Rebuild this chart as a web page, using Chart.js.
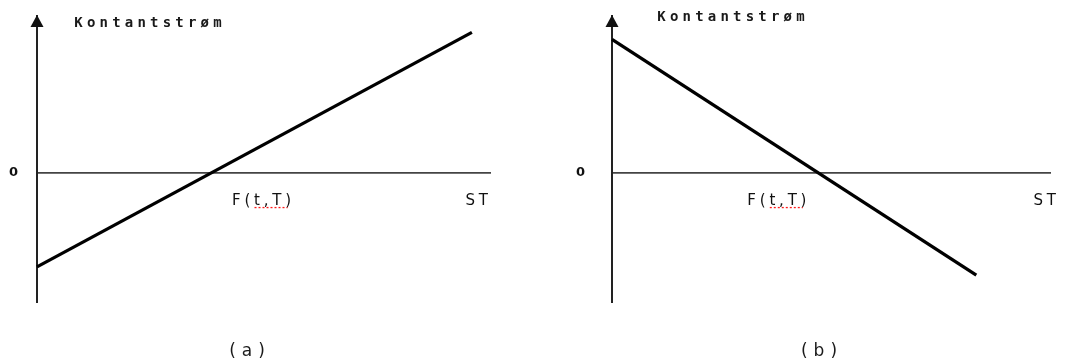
<!DOCTYPE html>
<html>
<head>
<meta charset="utf-8">
<script src="https://cdn.jsdelivr.net/npm/chart.js@4.4.0/dist/chart.umd.min.js"></script>
<style>
  html, body { margin: 0; padding: 0; background: #fff; }
  #wrap { position: relative; width: 1075px; height: 364px; }
  canvas { position: absolute; top: 0; }
</style>
</head>
<body>
<div id="wrap">
  <canvas id="chartA" width="540" height="364" style="left:0"></canvas>
  <canvas id="chartB" width="535" height="364" style="left:540px"></canvas>
</div>
<script>
// payoff lines: x = spot price at maturity, y = cash flow
const payoffAx = [0, 9.6];
const payoffAy = [-4, 6];
const payoffBx = [0, 8.3];
const payoffBy = [5.7, -4.35];

const xTickLabels = ['F(t,T)', 'ST'];
const xTickValuesA = [5.0, 9.75];
const xTickValuesB = [3.8, 9.9];
const yTickLabels = ['0'];
const yTickValues = [0];
const yAxisTitle = 'Kontantstrøm';
const panelTitles = ['(a)', '(b)'];

// arrow on the y axis, spell-check squiggle, axis title and panel title
const axisDecor = {
  id: 'axisDecor',
  beforeDraw(chart) {
    chart.ctx.letterSpacing = '3.8px';
  },
  afterDraw(chart, args, opts) {
    const ctx = chart.ctx;
    const xs = chart.scales.x, ys = chart.scales.y;
    const ax = xs.getPixelForValue(0);
    const top = chart.chartArea.top;
    const zeroY = ys.getPixelForValue(0);
    ctx.save();
    ctx.letterSpacing = '0px';
    ctx.fillStyle = '#111';
    ctx.beginPath();
    ctx.moveTo(ax, top - 1);
    ctx.lineTo(ax - 6.5, top + 11);
    ctx.lineTo(ax + 6.5, top + 11);
    ctx.closePath();
    ctx.fill();

    const fx = xs.getPixelForValue(opts.fValue);
    ctx.strokeStyle = '#ff1a1a';
    ctx.lineWidth = 1.3;
    ctx.setLineDash([2, 2]);
    ctx.beginPath();
    ctx.moveTo(fx - 9, zeroY + 34.5);
    ctx.lineTo(fx + 24, zeroY + 34.5);
    ctx.stroke();
    ctx.setLineDash([]);

    ctx.fillStyle = '#1a1a1a';
    ctx.textAlign = 'center';
    ctx.textBaseline = 'middle';
    ctx.font = 'bold 14px "DejaVu Sans Mono"';
    ctx.letterSpacing = '4.2px';
    ctx.fillText(yAxisTitle, opts.titleX + 2.1, opts.titleY);
    ctx.font = '17px "DejaVu Sans"';
    ctx.letterSpacing = '6px';
    ctx.fillText(opts.panel, opts.panelX + 3, 352);
    ctx.restore();
  }
};

function makeChart(id, xs, ys, xTicks, axisLeft, right, yPad, decor) {
  return new Chart(document.getElementById(id), {
    type: 'line',
    data: {
      datasets: [{
        data: xs.map((x, i) => ({ x: x, y: ys[i] })),
        borderColor: '#000',
        borderWidth: 3.3,
        pointRadius: 0,
        tension: 0,
        clip: false
      }]
    },
    options: {
      responsive: false,
      animation: false,
      devicePixelRatio: 1,
      layout: { padding: { left: 0, right: right, top: 16, bottom: 62 } },
      plugins: {
        legend: { display: false },
        tooltip: { enabled: false },
        axisDecor: decor
      },
      scales: {
        x: {
          type: 'linear', min: 0, max: 10,
          position: { y: 0 },
          grid: { display: false, drawTicks: false },
          border: { display: true, color: '#444', width: 1.8 },
          afterBuildTicks: s => { s.ticks = xTicks.map(v => ({ value: v })); },
          ticks: {
            padding: 19, maxRotation: 0, autoSkip: false, color: '#111',
            font: { family: 'DejaVu Sans', size: 15 },
            callback: (v, i) => xTickLabels[i]
          }
        },
        y: {
          type: 'linear', min: -5.5, max: 6.7,
          position: 'left',
          grid: { display: false, drawTicks: false },
          border: { display: true, color: '#222', width: 2 },
          afterBuildTicks: s => { s.ticks = yTickValues.map(v => ({ value: v })); },
          afterFit: s => { s.width = axisLeft; s.paddingTop = 0; s.paddingBottom = 0; },
          ticks: {
            padding: yPad, color: '#111',
            font: { family: 'DejaVu Sans', size: 13, weight: 'bold' },
            callback: (v, i) => yTickLabels[i]
          }
        }
      }
    },
    plugins: [axisDecor]
  });
}

makeChart('chartA', payoffAx, payoffAy, xTickValuesA, 37, 50, 15.2,
  { fValue: xTickValuesA[0], titleX: 148, titleY: 23, panel: panelTitles[0], panelX: 247 });

makeChart('chartB', payoffBx, payoffBy, xTickValuesB, 72, 13, 23.2,
  { fValue: xTickValuesB[0], titleX: 191, titleY: 17, panel: panelTitles[1], panelX: 279 });
</script>
</body>
</html>
